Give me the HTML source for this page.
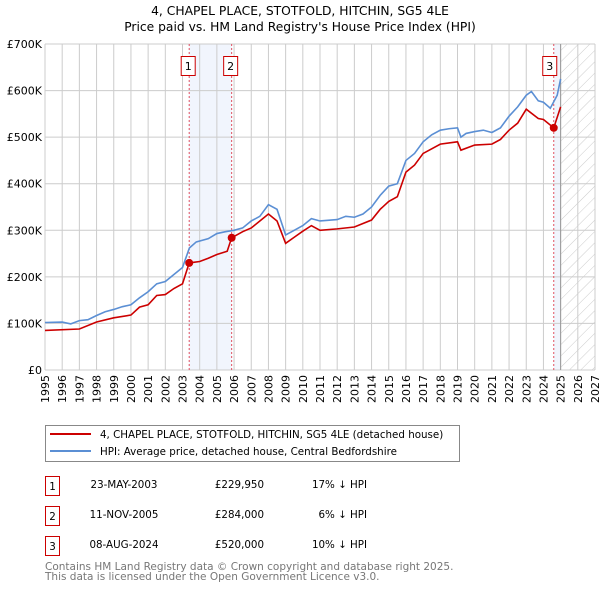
<!DOCTYPE html>
<html><head><meta charset="utf-8"><style>
body{margin:0;background:#fff;}
svg{display:block;font-family:"DejaVu Sans","Liberation Sans",sans-serif;}
</style></head><body>
<svg id="chart" width="600" height="590" viewBox="0 0 600 590">
<defs>
<pattern id="hatch" width="8" height="8" patternUnits="userSpaceOnUse" patternTransform="rotate(45)">
<line x1="0" y1="0" x2="0" y2="8" stroke="#ccc" stroke-width="1"/>
</pattern>
</defs>
<text x="300" y="15" text-anchor="middle" font-size="12.3">4, CHAPEL PLACE, STOTFOLD, HITCHIN, SG5 4LE</text>
<text x="300" y="31" text-anchor="middle" font-size="12.3">Price paid vs. HM Land Registry's House Price Index (HPI)</text>
<g id="plot"></g>
<g>
<rect x="45.5" y="425.5" width="414" height="36" fill="#fff" stroke="#888"/>
<line x1="50" y1="434" x2="91" y2="434" stroke="#cc0000" stroke-width="2"/>
<text x="100" y="438" font-size="10.3">4, CHAPEL PLACE, STOTFOLD, HITCHIN, SG5 4LE (detached house)</text>
<line x1="50" y1="451" x2="91" y2="451" stroke="#5b8fd4" stroke-width="2"/>
<text x="100" y="455" font-size="10.3">HPI: Average price, detached house, Central Bedfordshire</text>
</g>
<g font-size="10.3">
<rect x="45.5" y="476.5" width="14" height="19" fill="#fff" stroke="#cc0000"/><text x="52.5" y="490" text-anchor="middle">1</text>
<text x="124" y="488" text-anchor="middle">23-MAY-2003</text><text x="264" y="488" text-anchor="end">£229,950</text><text x="367" y="488" text-anchor="end">17% ↓ HPI</text>
<rect x="45.5" y="506.5" width="14" height="19" fill="#fff" stroke="#cc0000"/><text x="52.5" y="520" text-anchor="middle">2</text>
<text x="124" y="518" text-anchor="middle">11-NOV-2005</text><text x="264" y="518" text-anchor="end">£284,000</text><text x="367" y="518" text-anchor="end">6% ↓ HPI</text>
<rect x="45.5" y="536.5" width="14" height="19" fill="#fff" stroke="#cc0000"/><text x="52.5" y="550" text-anchor="middle">3</text>
<text x="124" y="548" text-anchor="middle">08-AUG-2024</text><text x="264" y="548" text-anchor="end">£520,000</text><text x="367" y="548" text-anchor="end">10% ↓ HPI</text>
</g>
<text x="45" y="570" font-size="10.5" fill="#777">Contains HM Land Registry data © Crown copyright and database right 2025.</text>
<text x="45" y="580" font-size="10.5" fill="#777">This data is licensed under the Open Government Licence v3.0.</text>
</svg>
<script>
const hpiYears=[1995,1996,1996.5,1997,1997.5,1998,1998.5,1999,1999.5,2000,2000.5,2001,2001.5,2002,2002.5,2003,2003.4,2003.8,2004.5,2005,2005.5,2006,2006.5,2007,2007.5,2008,2008.5,2009,2009.5,2010,2010.5,2011,2012,2012.5,2013,2013.5,2014,2014.5,2015,2015.5,2016,2016.5,2017,2017.5,2018,2018.5,2019,2019.2,2019.5,2020,2020.5,2021,2021.5,2022,2022.5,2023,2023.3,2023.7,2024,2024.4,2024.8,2025];
const hpiValues=[102,103,99,106,108,117,125,130,136,140,155,168,185,190,205,220,262,275,282,293,297,300,305,320,330,355,345,290,300,310,325,320,323,330,328,335,350,375,395,400,450,465,490,505,515,518,520,500,508,512,515,510,520,545,565,590,598,578,575,562,590,625];
const priceYears=[1995,1997,1998,1999,2000,2000.5,2001,2001.5,2002,2002.5,2003,2003.39,2004,2004.5,2005,2005.6,2005.86,2006.5,2007,2007.5,2008,2008.5,2009,2009.5,2010,2010.5,2011,2012,2013,2014,2014.5,2015,2015.5,2016,2016.5,2017,2017.5,2018,2019,2019.2,2020,2021,2021.5,2022,2022.5,2023,2023.7,2024,2024.6,2025];
const priceValues=[85,88,103,112,118,135,140,160,162,175,185,229.95,233,240,248,255,284,297,305,320,335,320,272,285,298,310,300,303,307,322,345,362,372,425,440,465,475,485,490,472,483,485,495,515,530,560,540,538,520,565];
const saleYears=[2003.39,2005.86,2024.6];
const saleValues=[229.95,284,520];
const saleLabels=["1","2","3"];
const yTicks=[0,100,200,300,400,500,600,700];
const yTickLabels=["£0","£100K","£200K","£300K","£400K","£500K","£600K","£700K"];
const xTicks=[1995,1996,1997,1998,1999,2000,2001,2002,2003,2004,2005,2006,2007,2008,2009,2010,2011,2012,2013,2014,2015,2016,2017,2018,2019,2020,2021,2022,2023,2024,2025,2026,2027];

const L=45,R=595,T=44,B=370;
const x=v=>L+(v-1995)/(2027-1995)*(R-L);
const y=v=>B-v/700*(B-T);
const NS="http://www.w3.org/2000/svg";
const g=document.getElementById('plot');
function mk(tag,at,parent){const e=document.createElementNS(NS,tag);for(const k in at)e.setAttribute(k,at[k]);(parent||g).appendChild(e);return e;}

let e=mk('rect',{x:x(saleYears[0]),y:T,width:x(saleYears[1])-x(saleYears[0]),height:B-T,fill:'#f1f5fd'});


e=mk('rect',{x:x(saleYears[2]),y:T,width:x(2025)-x(saleYears[2]),height:B-T,fill:'#f1f5fd'});


e=mk('rect',{x:x(2025),y:T,width:R-x(2025),height:B-T,fill:'url(#hatch)'});



xTicks.forEach(t=>{
  const l=mk('line',{x1:x(t),x2:x(t),y1:T,y2:B,stroke:'#ccc','stroke-width':1});
  
  
  const tx=mk('text',{x:0,y:0,'font-size':11,'text-anchor':'end',transform:`translate(${x(t)+4},${B+5}) rotate(-90)`});
  tx.textContent=t;
  
  
});
yTicks.forEach((t,i)=>{
  const l=mk('line',{x1:L,x2:R,y1:y(t),y2:y(t),stroke:'#ccc','stroke-width':1});
  
  
  const tx=mk('text',{x:L-3,y:y(t)+4,'font-size':11,'text-anchor':'end'});
  tx.textContent=yTickLabels[i];
  
  
});
e=mk('line',{x1:x(2025),x2:x(2025),y1:T,y2:B,stroke:'#999','stroke-width':1});



saleYears.forEach((s,i)=>{
  const l=mk('line',{x1:x(s),x2:x(s),y1:T,y2:B,stroke:'#e05060','stroke-width':1,'stroke-dasharray':'2,2'});
  
  
  const bx=x(s)-(i==2?11:8);
  const r=mk('rect',{x:bx,y:56.5,width:14,height:19,fill:'#fff',stroke:'#cc0000'});
  
  
  const tx=mk('text',{x:bx+7,y:70,'font-size':11,'text-anchor':'middle'});
  tx.textContent=saleLabels[i];
  
  
});

e=mk('polyline',{points:hpiYears.map((v,i)=>x(v)+','+y(hpiValues[i])).join(' '),fill:'none',stroke:'#5b8fd4','stroke-width':1.6});


e=mk('polyline',{points:priceYears.map((v,i)=>x(v)+','+y(priceValues[i])).join(' '),fill:'none',stroke:'#cc0000','stroke-width':1.6});


saleYears.forEach((s,i)=>{
  const c=mk('circle',{cx:x(s),cy:y(saleValues[i]),r:4,fill:'#cc0000'});
  
  
});
</script>
</body></html>
